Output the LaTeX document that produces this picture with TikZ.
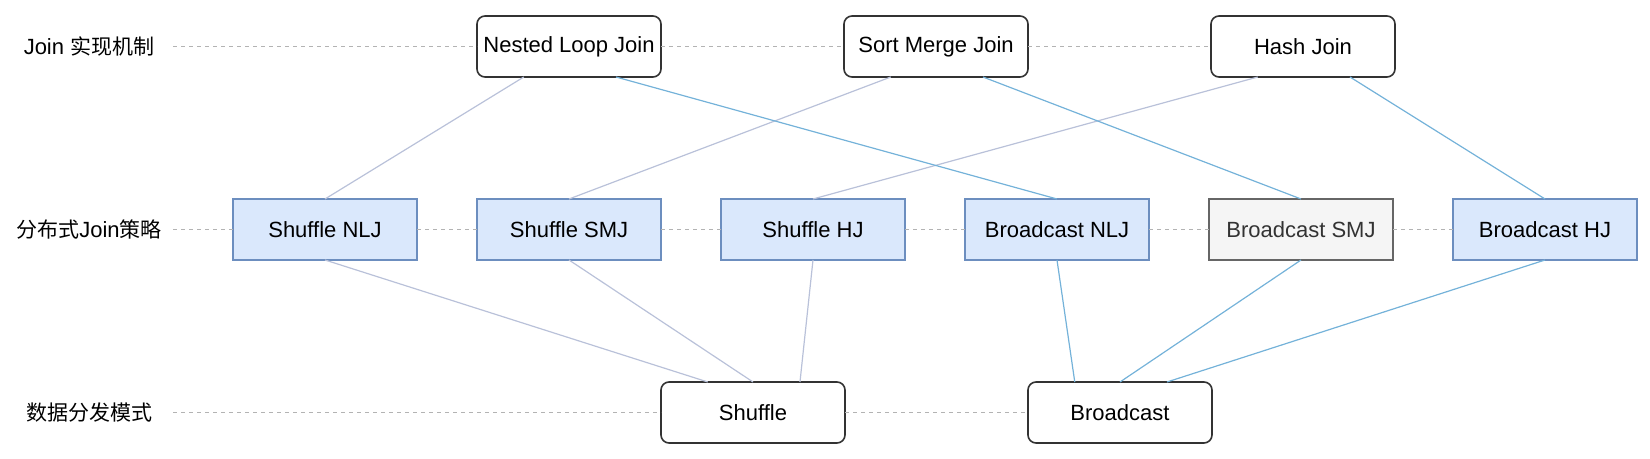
\documentclass[tikz,border=0pt]{standalone}
\usepackage{fontspec}
\setmainfont{Liberation Sans}
\newfontfamily\cjk{Noto Sans CJK SC}
\usepackage{tikz}
\usetikzlibrary{positioning}

\definecolor{stratfill}{HTML}{DAE8FC}
\definecolor{stratdraw}{HTML}{6C8EBF}
\definecolor{greyfill}{HTML}{F5F5F5}
\definecolor{greydraw}{HTML}{666666}
\definecolor{greytext}{HTML}{333333}
\definecolor{shufcol}{HTML}{B9C1D9}
\definecolor{bcastcol}{HTML}{74B2D9}
\definecolor{guidecol}{HTML}{B3B3B3}

\begin{document}
\begin{tikzpicture}[font=\fontsize{11}{13}\selectfont,
  box/.style={minimum width=92pt,minimum height=30.5pt,inner sep=0pt,outer sep=0pt},
  impl node/.style={box,draw=black!80,line width=0.8pt,rounded corners=4pt,fill=white},
  strat node/.style={box,draw=stratdraw,line width=0.7pt,fill=stratfill},
  grey node/.style={box,draw=greydraw,line width=0.7pt,fill=greyfill,text=greytext},
  row label/.style={inner sep=0pt},
  guide/.style={draw=guidecol,line width=0.6pt,dash pattern=on 2pt off 2pt},
  shuf line/.style={draw=shufcol,line width=0.6pt},
  bcast line/.style={draw=bcastcol,line width=0.6pt}]

  \useasboundingbox (0,0) rectangle (825pt,-229.5pt);

  \node[strat node] (snlj) at (162.5pt,-114.75pt) {Shuffle NLJ};
  \node[strat node] (ssmj) [right=30pt of snlj] {Shuffle SMJ};
  \node[strat node] (shj) [right=30pt of ssmj] {Shuffle HJ};
  \node[strat node] (bnlj) [right=30pt of shj] {Broadcast NLJ};
  \node[grey node] (bsmj) [right=30pt of bnlj] {Broadcast SMJ};
  \node[strat node] (bhj) [right=30pt of bsmj] {Broadcast HJ};

  \node[impl node] (nlj) [above=61pt of ssmj] {Nested Loop Join};
  \node[impl node] (smj) [right=91.5pt of nlj] {Sort Merge Join};
  \node[impl node] (hj) [right=91.5pt of smj] {Hash Join};

  \node[impl node] (shuf) [below right=61pt and 0pt of ssmj.south east] {Shuffle};
  \node[impl node] (bcast) [right=91.5pt of shuf] {Broadcast};

  \coordinate (lx) at (44.5pt,0);
  \coordinate (dx) at (86.5pt,0);
  \node[row label] (l1) at (lx |- nlj) {Join {\cjk\fontsize{10.5}{13}\selectfont 实现机制}};
  \node[row label] (l2) at (lx |- snlj) {{\cjk\fontsize{10.5}{13}\selectfont 分布式}Join{\cjk\fontsize{10.5}{13}\selectfont 策略}};
  \node[row label] (l3) at (lx |- shuf) {\cjk\fontsize{10.5}{13}\selectfont 数据分发模式};

  \path[guide] (dx |- nlj) edge (nlj.west) (nlj.east) edge (smj.west) (smj.east) edge (hj.west);
  \path[guide] (dx |- snlj) edge (snlj.west) (snlj.east) edge (ssmj.west) (ssmj.east) edge (shj.west)
    (shj.east) edge (bnlj.west) (bnlj.east) edge (bsmj.west) (bsmj.east) edge (bhj.west);
  \path[guide] (dx |- shuf) edge (shuf.west) (shuf.east) edge (bcast.west);

  \path[shuf line] (nlj.-146.45) edge (snlj.north) (smj.-146.45) edge (ssmj.north) (hj.-146.45) edge (shj.north);
  \path[shuf line] (snlj.south) edge (shuf.146.45) (ssmj.south) edge (shuf.north) (shj.south) edge (shuf.33.55);
  \path[bcast line] (nlj.-33.55) edge (bnlj.north) (smj.-33.55) edge (bsmj.north) (hj.-33.55) edge (bhj.north);
  \path[bcast line] (bnlj.south) edge (bcast.146.45) (bsmj.south) edge (bcast.north) (bhj.south) edge (bcast.33.55);
\end{tikzpicture}
\end{document}
